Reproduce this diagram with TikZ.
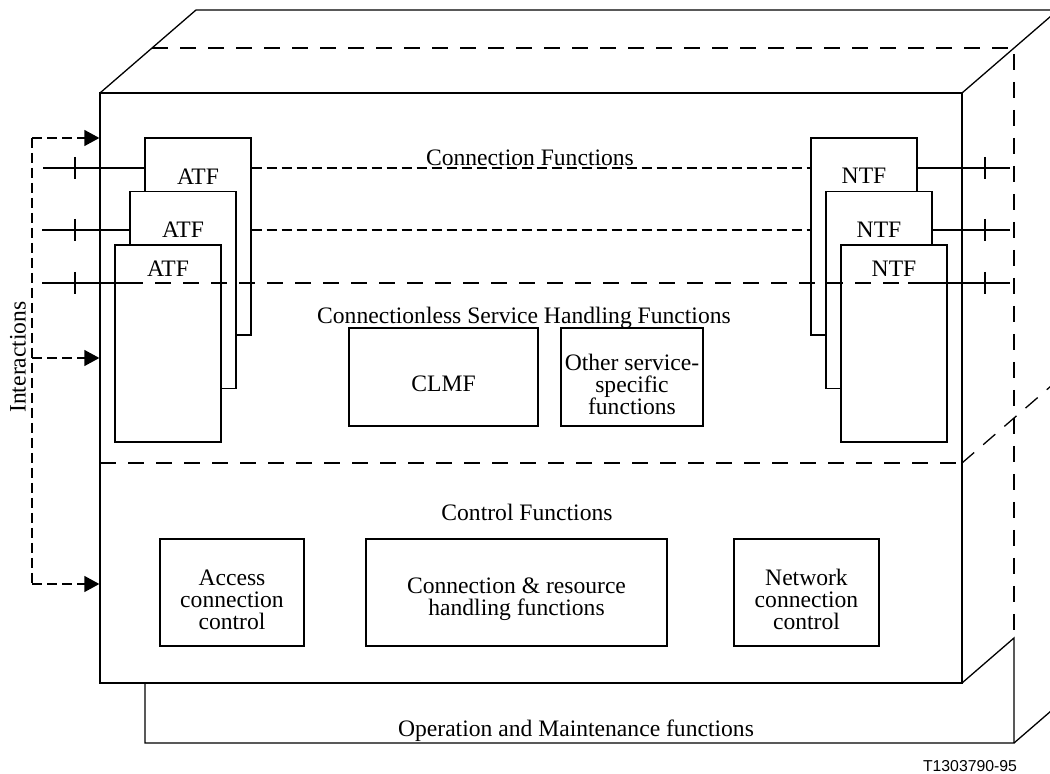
\documentclass[tikz,border=0pt]{standalone}
\usepackage{fontspec}
\setmainfont{Liberation Serif}
\newfontfamily\figtag{Liberation Sans}
\usetikzlibrary{arrows.meta,positioning}

\begin{document}
\begin{tikzpicture}[x=0.5pt, y=-0.5pt, line width=0.65pt,
        font=\fontsize{11.8}{11}\selectfont,
        fn/.style={draw, fill=white, inner sep=1pt, align=center},
        mid/.style={label={[align=center, yshift=-3.5pt]center:#1}},
        tf/.style={fn, minimum width=53pt, minimum height=98.5pt},
        sdash/.style={dash pattern=on 5pt off 2.5pt},
        ldash/.style={dash pattern=on 8pt off 6pt},
        ia/.style={sdash, -{Triangle[length=7.5pt, width=8pt]}}]
        \useasboundingbox (0,0) rectangle (1050,774);
        \clip (0,0) rectangle (1050,774);

        % solid body
        \draw (100,93) -- (196,10) -- (1100,10);
        \draw (962,93) -- (1058,10);
        \draw[ldash] (152,48) -- (1014,48) -- (1014,638);
        \draw (962,683) -- (1014,638) -- (1014,743) -- (145,743) -- (145,683);
        \draw (1014,743) -- (1110,660);
        \draw[ldash] (962,463) -- (1058,380);

        \node[draw, minimum width=431pt, minimum height=295pt] (body) at (531,388) {};
        \draw[ldash] (100,463) -- (962,463);

        \node[anchor=base] (conf) at (530,166) {Connection Functions};

        \foreach \n/\x/\y/\ly in {1/198/236.5/185, 2/183/290/238, 3/168/343.5/277} {
            \node[tf] (ATF\n) at (\x,\y) {};
            \node[anchor=base] (ATF\n l) at (\x,\ly) {ATF};
        }
        \foreach \n/\x/\y/\ly in {1/864/236.5/184, 2/879/290/238, 3/894/343.5/277} {
            \node[tf] (NTF\n) at (\x,\y) {};
            \node[anchor=base] (NTF\n l) at (\x,\ly) {NTF};
        }

        \coordinate (L1) at (43,168);
        \coordinate (L2) at (42,230);
        \coordinate (L3) at (42,283);
        \coordinate (L3e) at (138,283);
        \coordinate (R1) at (1010,168);
        \coordinate (R2) at (1010,230);
        \coordinate (R3) at (1010,283);
        \coordinate (R3s) at (908,283);

        \draw[sdash] (ATF1.east |- L1) -- (NTF1.west |- L1);
        \draw[sdash] (ATF1.east |- L2) -- (NTF1.west |- L2);
        \draw[ldash] (body.west |- L3) -- (body.east |- L3);

        \draw (L1) -- (L1 -| ATF1.west);
        \draw (L2) -- (L2 -| ATF2.west);
        \draw (L3) -- (L3e);
        \draw (NTF1.east |- R1) -- (R1);
        \draw (NTF2.east |- R2) -- (R2);
        \draw (R3s) -- (R3);
        \foreach \y in {168,230,283} {
            \draw (75,\y-11) -- (75,\y+11);
            \draw (985,\y-11) -- (985,\y+11);
        }

        % interactions
        \coordinate (I1) at (32,138);
        \coordinate (I2) at (32,358);
        \coordinate (I3) at (32,584);
        \draw[sdash] (I1) -- (I3);
        \foreach \i in {1,2,3}
            \draw[ia] (I\i) -- (I\i -| body.west);
        \node[rotate=90] (inter) at (18,357) {Interactions};

        \node[anchor=base] (clsh) at (524,324) {Connectionless Service Handling Functions};
        \node[fn, minimum width=94.5pt, minimum height=49pt, mid={CLMF}] (clmf) at (443.5,377) {};
        \node[fn, minimum width=71pt, minimum height=49pt, mid={Other service-\\specific\\functions}] (other) at (632,377) {};

        \node[anchor=base] (ctrl) at (527,521) {Control Functions};
        \node[fn, minimum width=72pt, minimum height=53.5pt, mid={Access\\connection\\control}] (acc) at (232,592.5) {};
        \node[fn, minimum width=150.5pt, minimum height=53.5pt, mid={Connection \& resource\\handling functions}] (crh) at (516.5,592.5) {};
        \node[fn, minimum width=72.5pt, minimum height=53.5pt, mid={Network\\connection\\control}] (ncc) at (806.5,592.5) {};

        \node[anchor=base] (oam) at (576,737) {Operation and Maintenance functions};
        \node[anchor=base, font=\figtag\fontsize{7.9}{9}\selectfont] (tag) at (970,771) {T1303790-95};

    \end{tikzpicture}
\end{document}
